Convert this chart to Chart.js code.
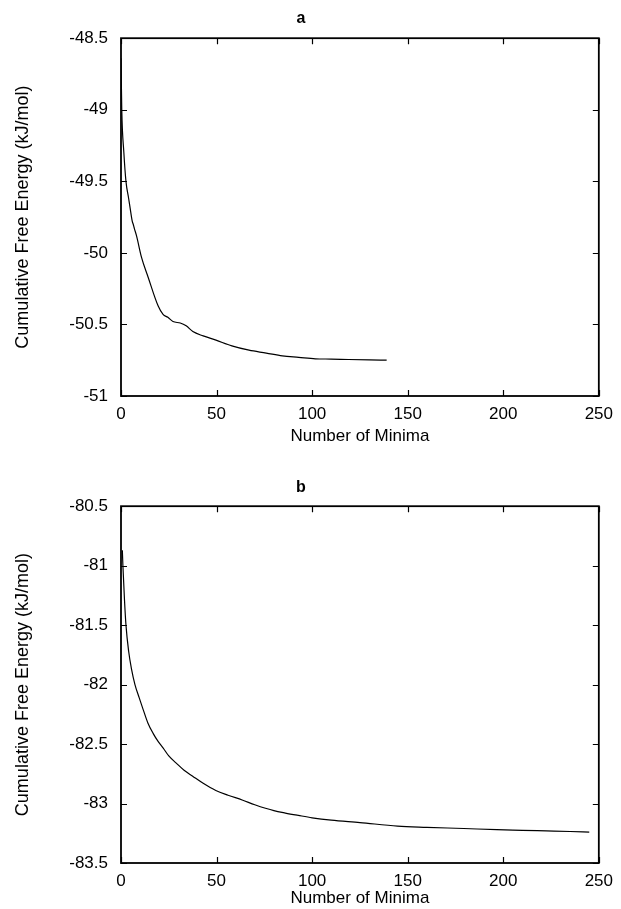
<!DOCTYPE html>
<html>
<head>
<meta charset="utf-8">
<script src="https://cdn.jsdelivr.net/npm/chart.js@4.4.0/dist/chart.umd.min.js"></script>
<style>
  html, body { margin: 0; padding: 0; background: #fff; }
  #wrap { position: relative; width: 621px; height: 909px; }
  .box { position: absolute; left: 0; width: 621px; }
  #boxA { top: 0; height: 455px; }
  #boxB { top: 455px; height: 454px; }
</style>
</head>
<body>
<div id="wrap">
  <div class="box" id="boxA"><canvas id="chartA"></canvas></div>
  <div class="box" id="boxB"><canvas id="chartB"></canvas></div>
</div>
<script>
// panel a: cumulative free energy vs number of minima
const minimaA = [0, 0.4, 1.5, 2.6, 4.0, 4.7, 5.9, 6.4, 7.0, 8.1, 10.7, 14.2, 19.4, 22, 24.5, 27.2, 31, 34.1, 37.6, 43, 49.7, 58, 67, 76, 84.4, 93, 101.7, 110, 119, 130, 139]
const energyA = [-48.64, -49.0, -49.3, -49.5, -49.62, -49.68, -49.78, -49.80, -49.83, -49.88, -50.03, -50.17, -50.37, -50.43, -50.45, -50.48, -50.49, -50.51, -50.55, -50.58, -50.61, -50.65, -50.68, -50.70, -50.72, -50.73, -50.74, -50.742, -50.745, -50.748, -50.75]

// panel b
const minimaB = [0.7, 1.0, 1.8, 2.6, 4.0, 5.5, 7.3, 9.5, 11.6, 14, 16.8, 19.5, 21.9, 25, 28.9, 33, 37.5, 43, 49.6, 56, 63.4, 70, 75.6, 80, 86, 92.8, 100, 110, 125, 144.7, 160, 179.3, 196.6, 210, 222.5, 235, 245]
const energyB = [-80.87, -81.0, -81.28, -81.5, -81.72, -81.87, -82.0, -82.11, -82.21, -82.32, -82.41, -82.48, -82.53, -82.6, -82.66, -82.72, -82.77, -82.83, -82.89, -82.93, -82.97, -83.01, -83.04, -83.06, -83.08, -83.1, -83.12, -83.14, -83.16, -83.19, -83.2, -83.21, -83.22, -83.225, -83.23, -83.235, -83.24]

const xTicks = [0, 50, 100, 150, 200, 250]
const yTicksA = [-48.5, -49, -49.5, -50, -50.5, -51]
const yTicksB = [-80.5, -81, -81.5, -82, -82.5, -83, -83.5]

const FONT = 'Liberation Sans, Arial, Helvetica, sans-serif'

// frame with inward tick marks on all four sides
const framePlugin = {
  id: 'frame',
  afterDraw(chart) {
    const { ctx, chartArea: a, scales } = chart
    ctx.save()
    ctx.strokeStyle = '#000'
    ctx.lineWidth = 1.2
    ctx.beginPath()
    scales.x.ticks.forEach(t => {
      const px = Math.round(scales.x.getPixelForValue(t.value)) + 0.5
      ctx.moveTo(px, a.bottom); ctx.lineTo(px, a.bottom - 6)
      ctx.moveTo(px, a.top); ctx.lineTo(px, a.top + 6)
    })
    scales.y.ticks.forEach(t => {
      const py = Math.round(scales.y.getPixelForValue(t.value)) + 0.5
      ctx.moveTo(a.left, py); ctx.lineTo(a.left + 6, py)
      ctx.moveTo(a.right, py); ctx.lineTo(a.right - 6, py)
    })
    ctx.stroke()
    ctx.lineWidth = 1.8
    ctx.strokeRect(a.left, a.top, a.right - a.left, a.bottom - a.top)
    ctx.restore()
  }
}

function makeChart(id, xs, ys, yTicks, opt) {
  const ctx = document.getElementById(id)
  return new Chart(ctx, {
    type: 'line',
    data: {
      datasets: [{
        data: xs.map((x, i) => ({ x: x, y: ys[i] })),
        borderColor: '#000',
        borderWidth: 1.2,
        pointRadius: 0,
        cubicInterpolationMode: 'monotone',
        fill: false
      }]
    },
    options: {
      responsive: true,
      maintainAspectRatio: false,
      animation: false,
      layout: { padding: { left: 0, right: 19, top: 0, bottom: 0 } },
      plugins: {
        legend: { display: false },
        tooltip: { enabled: false },
        title: {
          display: true,
          text: opt.title,
          color: '#000',
          font: { family: FONT, size: 16, weight: 'bold' },
          padding: { top: opt.titleTop, bottom: opt.plotTop - opt.titleTop - 19 }
        }
      },
      scales: {
        x: {
          type: 'linear',
          min: 0,
          max: 250,
          afterBuildTicks: s => { s.ticks = xTicks.map(v => ({ value: v })) },
          afterFit: s => { s.height = opt.xHeight },
          grid: { display: false, drawTicks: false },
          border: { display: false },
          ticks: { color: '#000', padding: opt.xTickPad, font: { family: FONT, size: 17 } },
          title: {
            display: true,
            text: 'Number of Minima',
            color: '#000',
            font: { family: FONT, size: 17 },
            padding: { top: 0, bottom: opt.xTitlePad }
          }
        },
        y: {
          type: 'linear',
          min: yTicks[yTicks.length - 1],
          max: yTicks[0],
          afterBuildTicks: s => { s.ticks = yTicks.map(v => ({ value: v })) },
          afterFit: s => { s.width = 121 },
          grid: { display: false, drawTicks: false },
          border: { display: false },
          ticks: {
            color: '#000',
            padding: 13,
            font: { family: FONT, size: 17 },
            callback: v => String(v)
          },
          title: {
            display: true,
            text: 'Cumulative Free Energy (kJ/mol)',
            color: '#000',
            font: { family: FONT, size: 18 },
            padding: { top: 12, bottom: 0 }
          }
        }
      }
    },
    plugins: [framePlugin]
  })
}

makeChart('chartA', minimaA, energyA, yTicksA, {
  title: 'a', titleTop: 9, plotTop: 38, xHeight: 59, xTickPad: 8, xTitlePad: 8
})
makeChart('chartB', minimaB, energyB, yTicksB, {
  title: 'b', titleTop: 23, plotTop: 51, xHeight: 46, xTickPad: 8, xTitlePad: 0
})
</script>
</body>
</html>
